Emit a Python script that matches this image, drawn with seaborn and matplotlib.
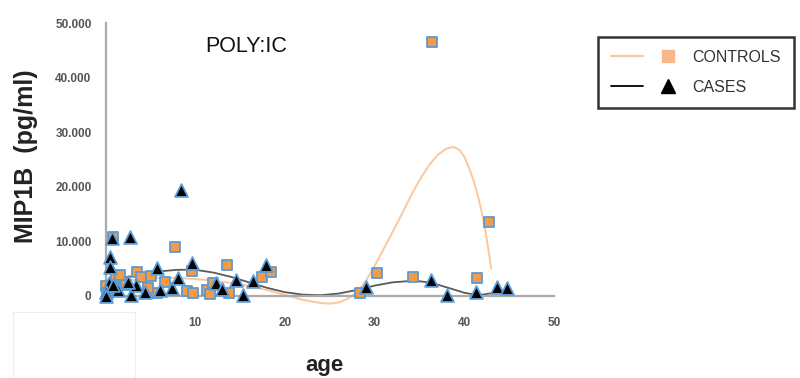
import matplotlib
matplotlib.use("Agg")
import matplotlib.pyplot as plt
import seaborn as sns
import pandas as pd
from matplotlib.lines import Line2D
from matplotlib.legend_handler import HandlerTuple
from matplotlib.patches import Rectangle

# ---- data ----
controls_age = [0.8, 7.8, 1.2, 1.6, 3.5, 4.0, 5.1, 9.6, 13.6, 17.4, 18.5, 9.1, 9.8, 11.3,
                11.6, 12.0, 13.8, 5.7, 1.3, 0.0, 0.2, 2.3, 4.7, 6.6, 28.4, 30.3, 34.3,
                36.4, 41.4, 42.8]
controls_val = [10800, 9000, 3500, 3800, 4400, 3500, 3700, 4600, 5700, 3500, 4400, 900, 600, 1100,
                400, 2400, 500, 500, 1500, 1800, 600, 2000, 1500, 2500, 500, 4200, 3500,
                46500, 3300, 13500]

cases_age = [0.7, 2.7, 0.5, 0.5, 5.7, 9.6, 8.4, 0.4, 0.1, 0.0, 1.4, 2.8, 4.4, 3.4, 6.1,
             7.4, 8.1, 0.8, 2.5, 12.3, 13.0, 14.5, 16.4, 15.3, 17.9, 29.0, 36.3, 38.1,
             41.3, 43.7, 44.8]
cases_val = [10600, 10800, 7100, 5300, 5100, 6000, 19400, 2400, 700, 0, 1100, 200, 700, 2000, 1100,
             1500, 3300, 2000, 2600, 2400, 1300, 2900, 2700, 200, 5700, 1700, 2900, 200,
             700, 1600, 1400]

# trend curves
controls_trend_age = [0, 2, 4, 6, 8, 10, 12, 14, 16, 18, 20, 22, 24, 25, 26, 27, 28, 29, 30,
                      31, 32, 33, 34, 35, 36, 37, 38, 38.8, 39.5, 40, 40.5, 41, 41.5, 42,
                      42.5, 43]
controls_trend_val = [2000, 2700, 3100, 3300, 3300, 3100, 2800, 2400, 1800, 1100, 200, -700,
                      -1300, -1400, -1200, -500, 600, 2700, 5500, 8600, 11700, 14900, 18200,
                      21200, 23800, 25800, 27000, 27300, 26700, 25500, 23600, 21300, 18500,
                      15000, 10500, 5000]
cases_trend_age = [0, 2, 4, 6, 8, 10, 12, 14, 16, 18, 20, 22, 24, 26, 28, 30, 32, 34, 35,
                   36, 37, 38, 39, 40, 41, 42, 43, 44, 45]
cases_trend_val = [2500, 3300, 4000, 4500, 4800, 4800, 4300, 3500, 2500, 1500, 700, 250, 150,
                   450, 1100, 1900, 2500, 2750, 2700, 2500, 2100, 1600, 1100, 600, 300, 250,
                   500, 900, 1300]

x_ticks = [0, 10, 20, 30, 40, 50]
x_tick_labels = ["", "10", "20", "30", "40", "50"]
y_ticks = [0, 10000, 20000, 30000, 40000, 50000]
y_tick_labels = ["0", "10.000", "20.000", "30.000", "40.000", "50.000"]

ORANGE = "#F59A45"
PEACH = "#F9C8A0"
EDGE_BLUE = "#5B9BD5"
AXIS_GRAY = "#ABABAB"
TEXT_GRAY = "#555555"

sns.set_style("white")
plt.rcParams["font.family"] = ["Liberation Sans", "DejaVu Sans"]

fig = plt.figure(figsize=(8, 3.78), dpi=100)
ax = fig.add_axes([105.5 / 800, (378 - 309.65) / 378, (554 - 105.5) / 800, (309.65 - 23) / 378])

df_c = pd.DataFrame({"age": controls_age, "val": controls_val})
df_k = pd.DataFrame({"age": cases_age, "val": cases_val})
df_ct = pd.DataFrame({"age": controls_trend_age, "val": controls_trend_val})
df_kt = pd.DataFrame({"age": cases_trend_age, "val": cases_trend_val})

sns.lineplot(data=df_ct, x="age", y="val", ax=ax, color=PEACH, lw=1.4, zorder=2, sort=True)
sns.lineplot(data=df_kt, x="age", y="val", ax=ax, color="#5A5A5A", lw=1.3, zorder=2, sort=True)
sns.scatterplot(data=df_c, x="age", y="val", ax=ax, marker="s", s=42, color=ORANGE,
                edgecolor=EDGE_BLUE, linewidth=1.3, zorder=3, clip_on=False)
sns.scatterplot(data=df_k, x="age", y="val", ax=ax, marker="^", s=85, color="black",
                edgecolor=EDGE_BLUE, linewidth=1.3, zorder=4, clip_on=False)

ax.set_xlim(0, 50)
ax.set_ylim(-2500, 50000)
ax.set_xticks(x_ticks)
ax.set_xticklabels(x_tick_labels)
ax.set_yticks(y_ticks)
ax.set_yticklabels(y_tick_labels)

for s in ["top", "right"]:
    ax.spines[s].set_visible(False)
ax.spines["bottom"].set_position(("data", 0))
ax.spines["bottom"].set_bounds(0, 50)
ax.spines["left"].set_bounds(0, 50000)
for s in ["bottom", "left"]:
    ax.spines[s].set_color(AXIS_GRAY)
    ax.spines[s].set_linewidth(1.6)

ax.tick_params(axis="x", direction="out", length=4, width=1.2, color=AXIS_GRAY,
               pad=11, labelsize=8.5, labelcolor=TEXT_GRAY)
ax.tick_params(axis="y", direction="out", length=4, width=1.2, color=AXIS_GRAY,
               pad=6, labelsize=8.5, labelcolor=TEXT_GRAY)
for lab in ax.get_xticklabels() + ax.get_yticklabels():
    lab.set_fontweight("bold")

ax.set_xlabel("")
ax.set_ylabel("")
fig.text(325 / 800, 1 - 365 / 378, "age", ha="center", va="center",
         fontsize=16, fontweight="bold", color="#222222")
fig.text(26 / 800, 1 - 156 / 378, "MIP1B  (pg/ml)", ha="center", va="center",
         rotation=90, fontsize=18, fontweight="bold", color="#222222")
fig.text(246 / 800, 1 - 46 / 378, "POLY:IC", ha="center", va="center",
         fontsize=15.5, color="#111111")

# faint empty box under the plot
fig.patches.append(Rectangle((13 / 800, 0), (135 - 13) / 800, (378 - 312) / 378,
                             transform=fig.transFigure, facecolor="white",
                             edgecolor="#EEEEEE", lw=0.8, zorder=5))

h_c = (Line2D([], [], color=PEACH, lw=1.6),
       Line2D([], [], marker="s", ls="none", color="#F7B98A", markersize=9))
h_k = (Line2D([], [], color="black", lw=1.3),
       Line2D([], [], marker="^", ls="none", color="black", markersize=10))
leg = fig.legend([h_c, h_k], ["CONTROLS", "CASES"],
                 handler_map={tuple: HandlerTuple(ndivide=None, pad=0.6)},
                 loc="upper left", bbox_to_anchor=(598 / 800, 1 - 37 / 378),
                 frameon=True, fancybox=False, handlelength=4.6, handletextpad=0.5,
                 fontsize=11.5, labelspacing=0.95, borderpad=0.8, borderaxespad=0)
leg.get_frame().set_edgecolor("black")
leg.get_frame().set_linewidth(1.8)
for t in leg.get_texts():
    t.set_color("#333333")

fig.savefig("out.png", dpi=100)
